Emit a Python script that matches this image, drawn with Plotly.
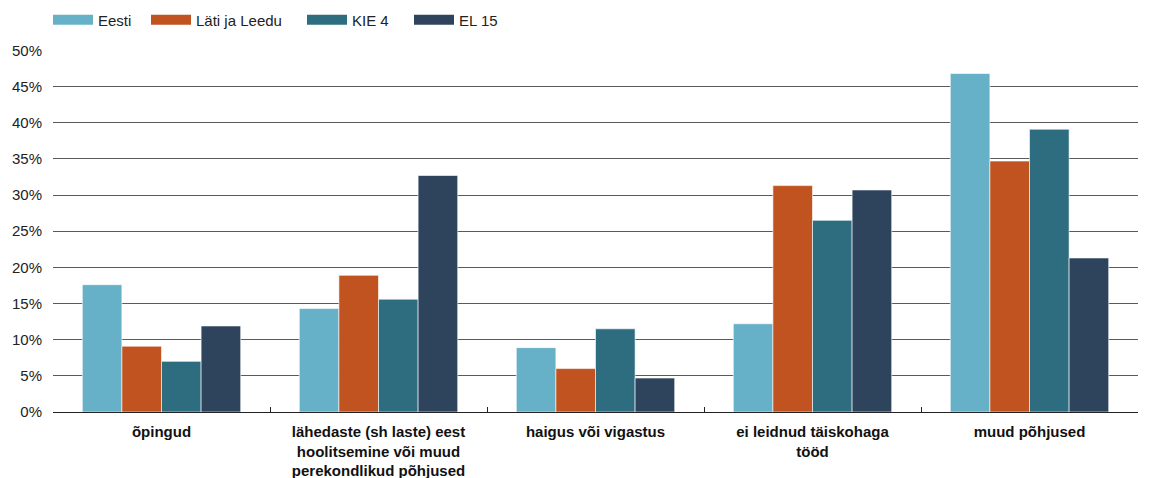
import plotly.graph_objects as go

categories = [
    "õpingud",
    "lähedaste (sh laste) eest<br>hoolitsemine või muud<br>perekondlikud põhjused",
    "haigus või vigastus",
    "ei leidnud täiskohaga<br>tööd",
    "muud põhjused",
]
series_names = ["Eesti", "Läti ja Leedu", "KIE 4", "EL 15"]
eesti = [17.6, 14.3, 8.9, 12.2, 46.8]
lati_leedu = [9.1, 18.9, 6.0, 31.3, 34.7]
kie4 = [7.0, 15.6, 11.5, 26.5, 39.1]
el15 = [11.9, 32.7, 4.7, 30.7, 21.3]
colors = ["#67B1C8", "#C0531F", "#2E6C80", "#2E445D"]
y_ticks = [0, 5, 10, 15, 20, 25, 30, 35, 40, 45, 50]
y_tick_text = [f"{v}%" for v in y_ticks]

W, H = 1142, 470
legend_ids = ["legend", "legend2", "legend3", "legend4"]
legend_x_px = [40, 138, 294, 401]
FONT = "Liberation Sans, Arial, sans-serif"

fig = go.Figure()
for name, vals, col in zip(series_names, [eesti, lati_leedu, kie4, el15], colors):
    fig.add_trace(go.Bar(
        x=categories, y=vals, name=name, showlegend=False,
        marker=dict(color=col, line=dict(color="rgba(255,255,255,0.6)", width=1)),
    ))
# legend entries with wide swatches
for name, col, lid in zip(series_names, colors, legend_ids):
    fig.add_trace(go.Scatter(
        x=[None], y=[None], mode="lines", name=name, legend=lid,
        line=dict(color=col, width=12),
    ))

fig.update_layout(
    width=W, height=H,
    margin=dict(l=45, r=12, t=42, b=66, autoexpand=False),
    paper_bgcolor="white", plot_bgcolor="white",
    barmode="group", bargap=0.27, bargroupgap=0,
    font=dict(family=FONT, size=15, color="#222"),
    showlegend=True,
)
for lid, lx in zip(legend_ids, legend_x_px):
    fig.update_layout({lid: dict(
        orientation="h", xref="container", yref="container",
        x=lx / W, xanchor="left", y=1 - 12 / H, yanchor="middle",
        font=dict(size=15, color="#222"), itemwidth=40,
        bgcolor="rgba(0,0,0,0)",
    )})
fig.update_xaxes(
    type="category", showgrid=False, showline=True, linecolor="#222", linewidth=1,
    ticks="inside", tickson="boundaries", ticklen=5, tickcolor="#222",
    tickfont=dict(size=15, color="#111", family=FONT),
    tickprefix="<b>", ticksuffix="</b>", automargin=False, ticklabelstandoff=6,
)
fig.update_yaxes(
    range=[0, 50.05], tickmode="array", tickvals=y_ticks, ticktext=y_tick_text,
    showgrid=True, gridcolor="#5a5a5a", gridwidth=1, zeroline=False, showline=False,
    tickfont=dict(size=15, color="#222"), ticks="", ticklabelstandoff=10,
    automargin=False,
)
fig.write_html("out.html")
